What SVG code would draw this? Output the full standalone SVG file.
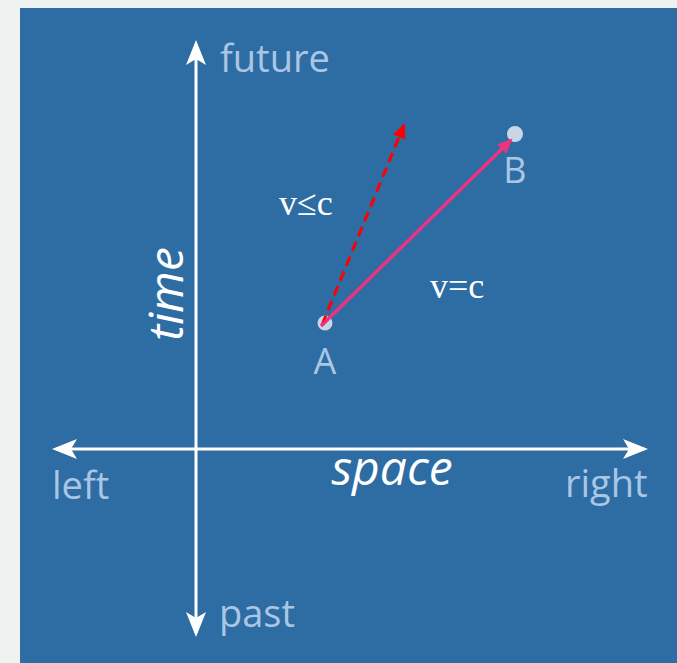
<svg xmlns="http://www.w3.org/2000/svg" width="677" height="663" viewBox="0 0 677 663">
  <style>
    .lbl { font-family: "Open Sans", "Noto Sans", "DejaVu Sans", sans-serif; fill: #a9c6e4; }
    .ital { font-family: "Open Sans", "Noto Sans", "DejaVu Sans", sans-serif; font-style: italic; fill: #ffffff; }
    .math { font-family: "Liberation Serif", "DejaVu Serif", serif; fill: #ffffff; font-size: 36px; }
    .axis { stroke: #ffffff; stroke-width: 3; fill: none; }
    .pt { fill: #c8d6e6; }
  </style>
  <defs>
    <marker id="wh" viewBox="-22 -11 27 22" markerWidth="27" markerHeight="22" refX="0" refY="0" orient="auto-start-reverse" markerUnits="userSpaceOnUse">
      <path d="M4,0 L-21,-10 L-15,0 L-21,10 Z" fill="#ffffff"/>
    </marker>
    <marker id="redh" viewBox="-14 -7 17 14" markerWidth="17" markerHeight="14" refX="0" refY="0" orient="auto" markerUnits="userSpaceOnUse">
      <path d="M2,0 L-13,-6.5 L-13,6.5 Z" fill="#ff0000"/>
    </marker>
    <marker id="pinkh" viewBox="-14 -7 17 14" markerWidth="17" markerHeight="14" refX="0" refY="0" orient="auto" markerUnits="userSpaceOnUse">
      <path d="M2,0 L-13,-6.5 L-13,6.5 Z" fill="#ea3480"/>
    </marker>
  </defs>

  <rect x="0" y="0" width="677" height="663" fill="#eef2f0"/>
  <rect x="20" y="8" width="657" height="655" fill="#2e6ca4"/>

  <g id="point-A">
    <circle class="pt" cx="325" cy="323" r="7.5"/>
    <text class="lbl" x="325" y="374" font-size="36" text-anchor="middle">A</text>
  </g>
  <g id="point-B">
    <circle class="pt" cx="515" cy="134" r="8"/>
    <text class="lbl" x="515" y="183" font-size="36" text-anchor="middle">B</text>
  </g>

  <g id="connectors">
    <line id="time-axis" class="axis" x1="196" y1="44" x2="196" y2="633" marker-start="url(#wh)" marker-end="url(#wh)"/>
    <line id="space-axis" class="axis" x1="56" y1="449" x2="644" y2="449" marker-start="url(#wh)" marker-end="url(#wh)"/>
    <line id="slower" x1="322" y1="325" x2="404" y2="125" stroke="#ff0000" stroke-width="3" stroke-dasharray="10 6" marker-end="url(#redh)"/>
    <line id="light" x1="321" y1="326" x2="511" y2="140" stroke="#ea3480" stroke-width="3.5" marker-end="url(#pinkh)"/>
  </g>

  <g id="labels">
    <text class="lbl" x="220" y="72" font-size="38">future</text>
    <text class="lbl" x="219" y="627" font-size="38">past</text>
    <text class="lbl" x="52" y="499" font-size="38">left</text>
    <text class="lbl" x="565" y="497" font-size="38">right</text>
    <text class="ital" x="392" y="485" font-size="48" text-anchor="middle">space</text>
    <text class="ital" transform="translate(183,294) rotate(-90)" x="0" y="0" font-size="48" text-anchor="middle">time</text>
    <text class="math" x="279" y="215">v≤c</text>
    <text class="math" x="430" y="298">v=c</text>
  </g>
</svg>
